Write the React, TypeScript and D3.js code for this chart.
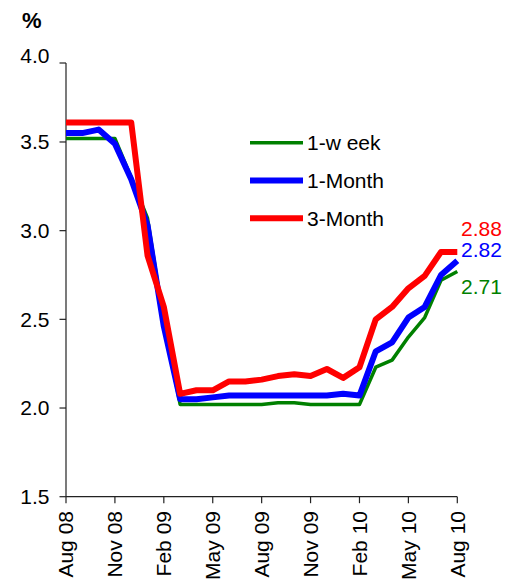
import React from "react";
import * as d3 from "d3";

const months = [
  "Aug 08","Sep 08","Oct 08","Nov 08","Dec 08","Jan 09","Feb 09","Mar 09","Apr 09","May 09","Jun 09","Jul 09","Aug 09",
  "Sep 09","Oct 09","Nov 09","Dec 09","Jan 10","Feb 10","Mar 10","Apr 10","May 10","Jun 10","Jul 10","Aug 10",
];
const tickLabels = ["Aug 08","Nov 08","Feb 09","May 09","Aug 09","Nov 09","Feb 10","May 10","Aug 10"];
const yTicks = [1.5, 2.0, 2.5, 3.0, 3.5, 4.0];

const oneWeek = [3.52,3.52,3.52,3.52,3.30,3.07,2.48,2.02,2.02,2.02,2.02,2.02,2.02,2.03,2.03,2.02,2.02,2.02,2.02,2.23,2.27,2.40,2.51,2.72,2.77];
const oneMonth = [3.55,3.55,3.57,3.49,3.29,3.03,2.46,2.05,2.05,2.06,2.07,2.07,2.07,2.07,2.07,2.07,2.07,2.08,2.07,2.32,2.37,2.51,2.57,2.75,2.83];
const threeMonth = [3.61,3.61,3.61,3.61,3.61,2.86,2.57,2.08,2.10,2.10,2.15,2.15,2.16,2.18,2.19,2.18,2.22,2.17,2.23,2.50,2.57,2.675,2.745,2.88,2.88];

const seriesNames = ["1-w eek", "1-Month", "3-Month"];
const endLabels = ["2.71", "2.82", "2.88"];

const FONT = "'Liberation Sans', Arial, sans-serif";

export default function App() {
  const x = d3.scalePoint<string>().domain(months).range([66, 457.3]);
  const y = d3.scaleLinear().domain([1.5, 4.0]).range([496.7, 53.3]);
  const axisTop = 63;

  const line = (vals: number[]) =>
    d3.line<number>().x((_, i) => x(months[i]) as number).y((v) => y(v))(vals) || "";

  const series = [
    { name: seriesNames[0], vals: oneWeek, color: "#008000", w: 3.5, label: endLabels[0], ly: 287 },
    { name: seriesNames[1], vals: oneMonth, color: "#0000FF", w: 6, label: endLabels[1], ly: 250 },
    { name: seriesNames[2], vals: threeMonth, color: "#FF0000", w: 6, label: endLabels[2], ly: 229 },
  ];

  return (
    <svg width={510} height={584} style={{ position: "absolute", left: 0, top: 0 }} fontFamily={FONT}>
      <rect width={510} height={584} fill="#fff" />
      <text x={22} y={28} fontSize={22} fontWeight="bold" fill="#000">%</text>

      {/* y axis */}
      <line x1={66} x2={66} y1={axisTop} y2={y(1.5)} stroke="#222" strokeWidth={1.2} />
      {yTicks.map((t) => {
        const ty = t === 4.0 ? axisTop : y(t);
        const labelY = t === 4.0 ? 56 : y(t);
        return (
          <g key={t}>
            <line x1={59.5} x2={66} y1={ty} y2={ty} stroke="#222" strokeWidth={1.2} />
            <text x={49.5} y={labelY} dy="0.35em" textAnchor="end" fontSize={21} fill="#000">
              {d3.format(".1f")(t)}
            </text>
          </g>
        );
      })}

      {/* x axis */}
      <line x1={66} x2={457.3} y1={y(1.5)} y2={y(1.5)} stroke="#222" strokeWidth={1.2} />
      {tickLabels.map((m) => {
        const tx = x(m) as number;
        return (
          <g key={m}>
            <line x1={tx} x2={tx} y1={y(1.5)} y2={y(1.5) + 6.5} stroke="#222" strokeWidth={1.2} />
            <text
              transform={`translate(${tx},${511}) rotate(-90)`}
              dy="0.35em"
              textAnchor="end"
              fontSize={21}
              fill="#000"
            >
              {m}
            </text>
          </g>
        );
      })}

      {/* lines */}
      {series.map((s) => (
        <path key={s.name} d={line(s.vals)} fill="none" stroke={s.color} strokeWidth={s.w} strokeLinejoin="round" />
      ))}

      {/* end labels */}
      {series.map((s) => (
        <text key={s.label} x={461} y={s.ly} dy="0.35em" fontSize={21} fill={s.color}>
          {s.label}
        </text>
      ))}

      {/* legend */}
      {series.map((s, i) => {
        const ly = 142.7 + i * 37.8;
        return (
          <g key={"lg" + s.name}>
            <line x1={250} x2={303} y1={ly} y2={ly} stroke={s.color} strokeWidth={s.w === 6 ? 6 : 3.5} />
            <text x={307} y={ly} dy="0.35em" fontSize={21} fill="#000">{s.name}</text>
          </g>
        );
      })}
    </svg>
  );
}
